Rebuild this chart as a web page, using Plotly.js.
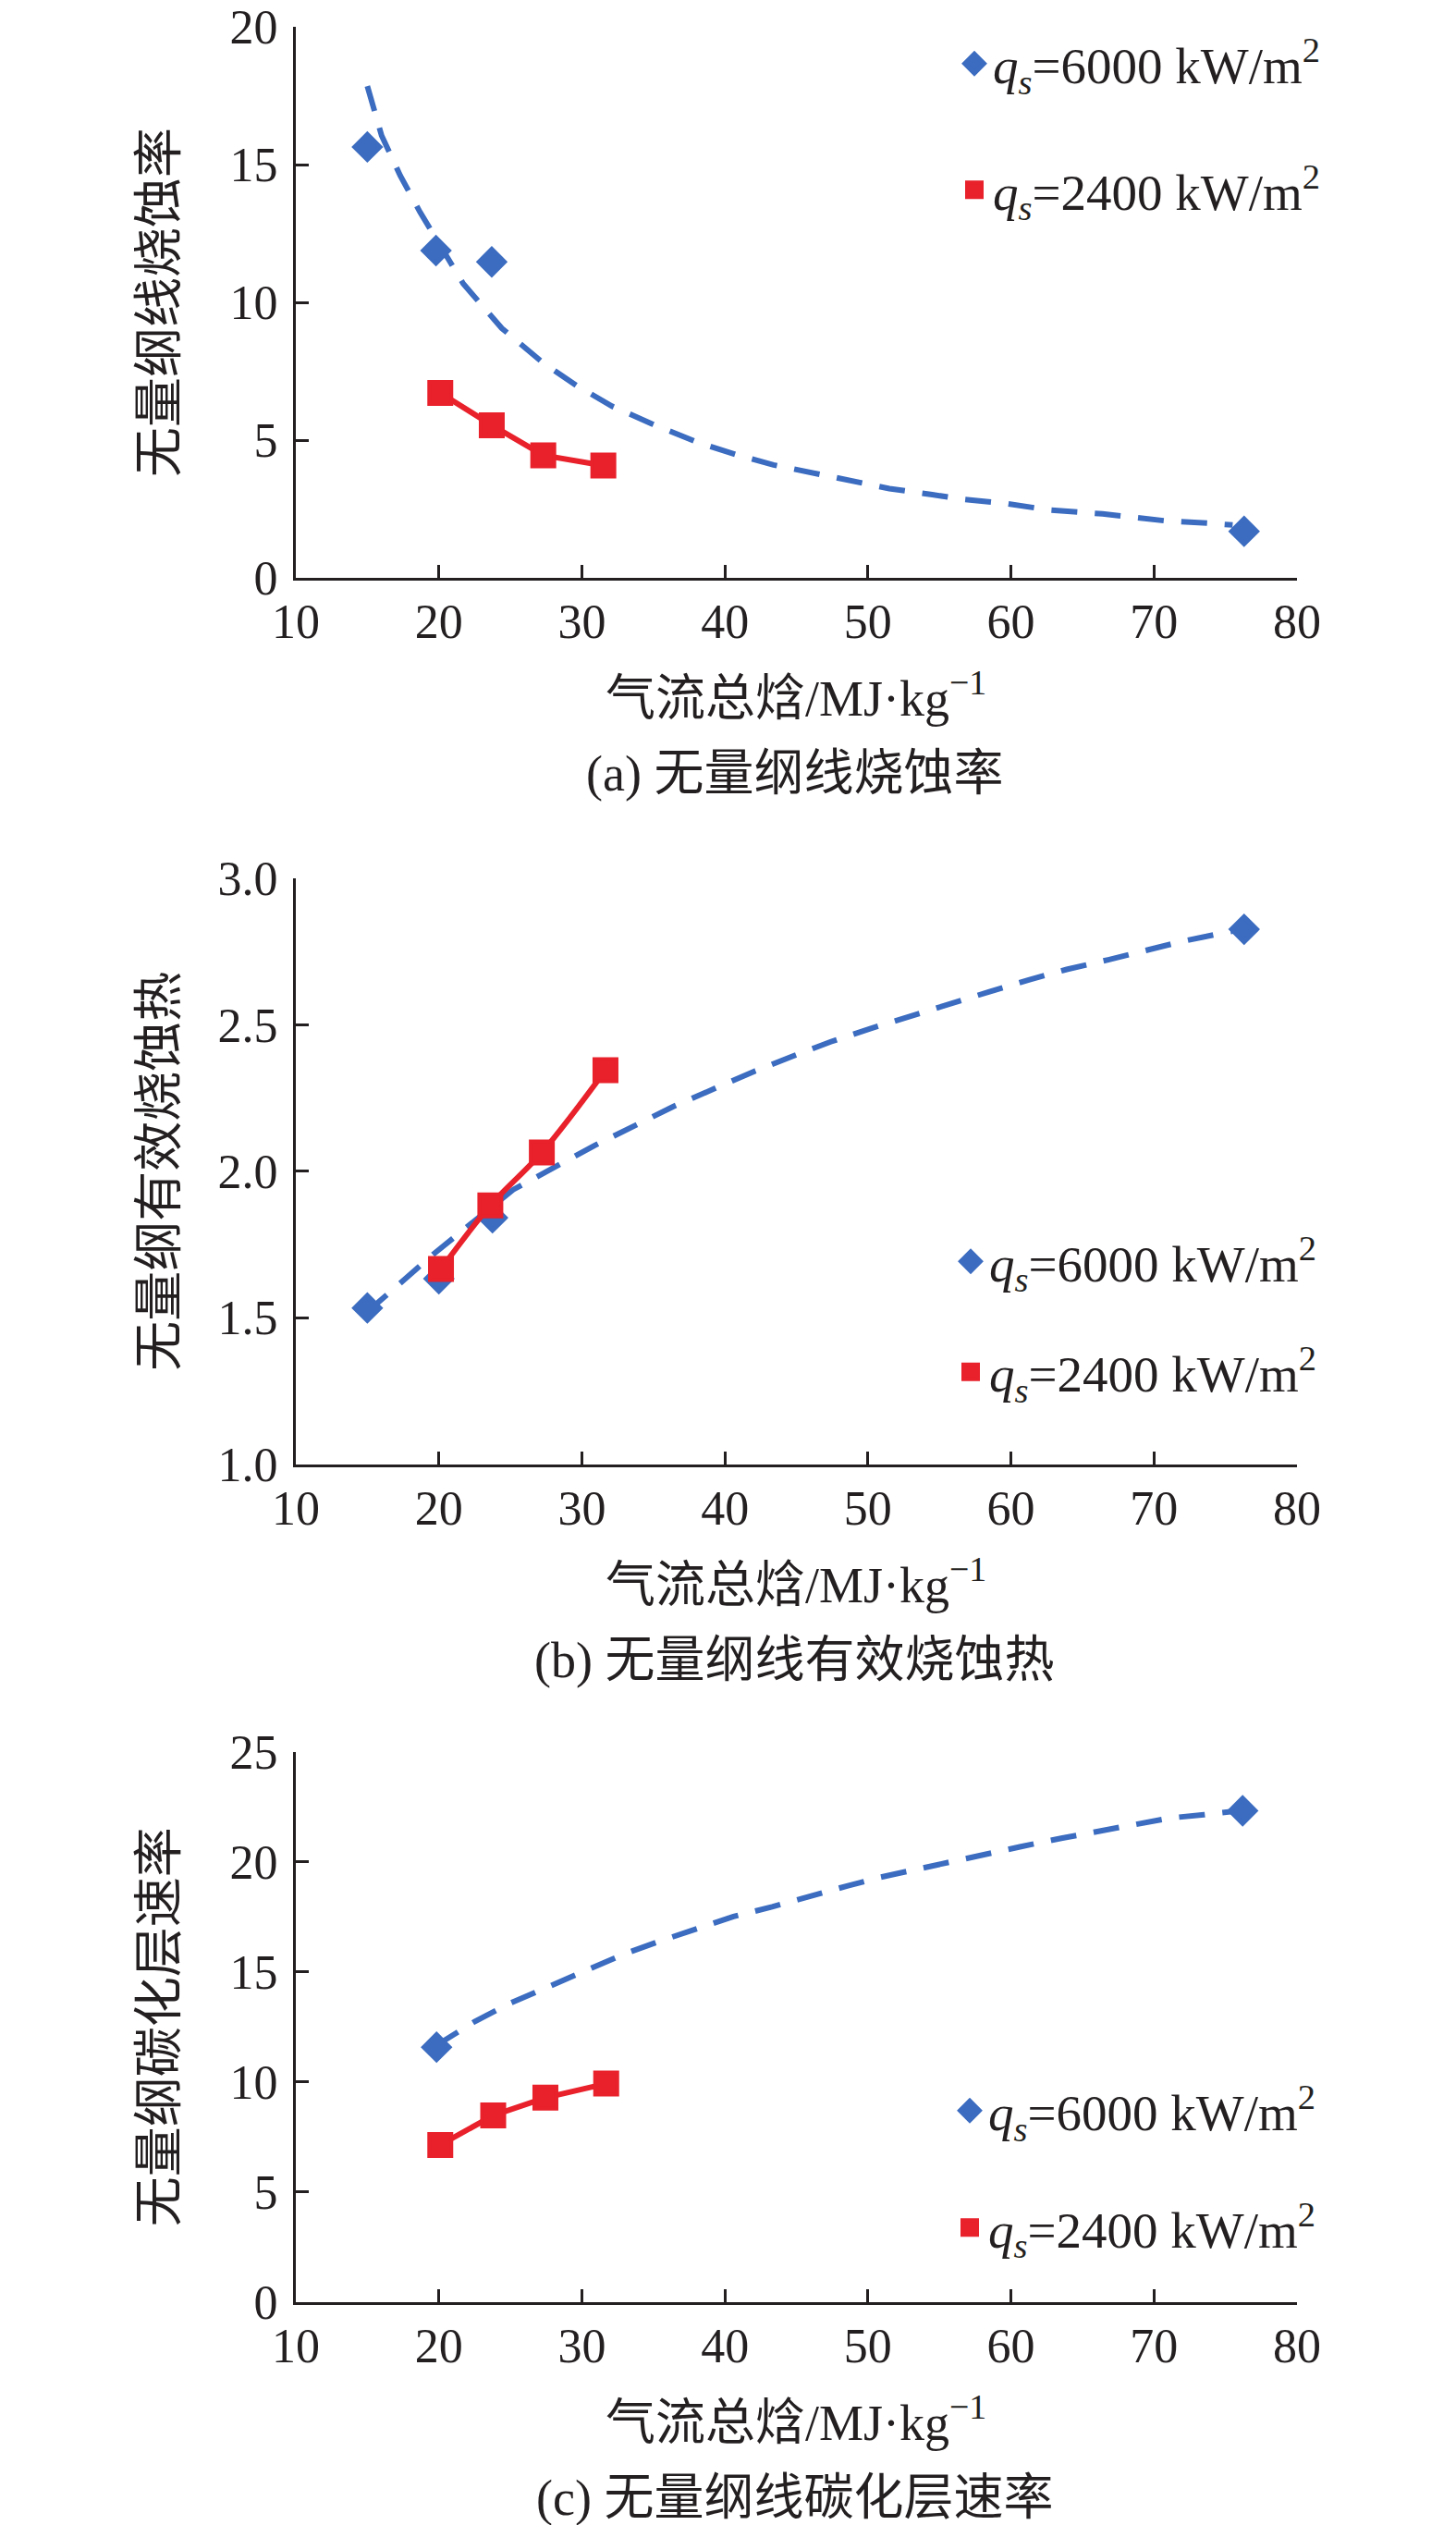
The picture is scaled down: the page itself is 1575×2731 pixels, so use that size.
<!DOCTYPE html>
<html>
<head>
<meta charset="utf-8">
<script src="https://cdn.plot.ly/plotly-3.0.1.min.js"></script>
<style>
html,body{margin:0;padding:0;background:#fff;}
#chart{width:1575px;height:2731px;}
</style>
</head>
<body>
<div id="chart"></div>
<script>
// ---------- data ----------
// (a) dimensionless linear ablation rate
const A_BLUE_X = [15.0, 19.8, 23.7, 76.3];
const A_BLUE_Y = [15.64, 11.88, 11.47, 1.69];
const A_RED_X = [20.1, 23.7, 27.3, 31.5];
const A_RED_Y = [6.71, 5.54, 4.45, 4.08];
const A_TREND_X = [15.0, 16.0, 17.3, 18.7, 21.7, 24.4, 27.3, 29.6, 32.1, 34.9, 38.1, 40.8, 43.4, 45.7, 48.7, 51.5, 54.5, 56.7, 59.6, 62.6, 66.4, 70.8, 73.9, 75.5];
const A_TREND_Y = [17.85, 16.05, 14.6, 13.26, 10.68, 9.06, 7.80, 6.99, 6.23, 5.59, 4.92, 4.47, 4.10, 3.86, 3.55, 3.24, 3.02, 2.85, 2.70, 2.47, 2.32, 2.07, 1.98, 1.92];

// (b) dimensionless effective heat of ablation
const B_BLUE_X = [15.0, 20.0, 23.75, 76.3];
const B_BLUE_Y = [1.533, 1.633, 1.841, 2.826];
const B_RED_X = [20.15, 23.6, 27.2, 31.65];
const B_RED_Y = [1.666, 1.883, 2.064, 2.345];
const B_TREND_X = [15.0, 17.3, 19.7, 25.2, 30.9, 36.4, 39.4, 42.1, 44.8, 47.4, 50.3, 53.1, 55.8, 58.5, 61.3, 63.9, 66.8, 69.1, 72.0, 75.5];
const B_TREND_Y = [1.52, 1.617, 1.72, 1.937, 2.088, 2.221, 2.287, 2.342, 2.394, 2.442, 2.489, 2.533, 2.575, 2.613, 2.654, 2.689, 2.722, 2.752, 2.785, 2.82];

// (c) dimensionless char layer rate
const C_BLUE_X = [19.84, 76.2];
const C_BLUE_Y = [11.58, 22.33];
const C_RED_X = [20.1, 23.8, 27.45, 31.7];
const C_RED_Y = [7.13, 8.47, 9.28, 9.92];
const C_TREND_X = [19.8, 22.5, 24.9, 27.5, 30.2, 32.9, 35.5, 38.3, 40.6, 43.3, 46.0, 48.6, 50.9, 53.8, 56.3, 59.0, 60.7, 63.6, 66.5, 69.3, 71.1, 73.5, 75.5];
const C_TREND_Y = [11.65, 12.74, 13.55, 14.27, 15.08, 15.80, 16.41, 17.02, 17.52, 17.96, 18.47, 18.92, 19.31, 19.73, 20.11, 20.46, 20.70, 21.09, 21.44, 21.79, 22.0, 22.15, 22.3];

const LEGEND_BLUE = '<i>q</i><sub><i>s</i></sub>=6000 kW/m<sup>2</sup>';
const LEGEND_RED = '<i>q</i><sub><i>s</i></sub>=2400 kW/m<sup>2</sup>';
const X_TITLE = '气流总焓/MJ·kg<sup>−1</sup>';
const Y_TITLES = ['无量纲线烧蚀率', '无量纲有效烧蚀热', '无量纲碳化层速率'];
const CAPTIONS = ['(a) 无量纲线烧蚀率', '(b) 无量纲线有效烧蚀热', '(c) 无量纲线碳化层速率'];
const X_TICKS = [10, 20, 30, 40, 50, 60, 70, 80];

// ---------- style ----------
const BLUE = '#3b6cc0';
const RED = '#e8212b';
const INK = '#231f20';
const FONT = 'Liberation Serif, "Times New Roman", "Noto Sans CJK SC", serif';
const W = 1575, H = 2731;

function px(x) { return x / W; }
function py(y) { return 1 - y / H; }

function panel(idx, bx, by, rx, ry, tx, ty, splineRed) {
  const s = idx === 1 ? '' : String(idx);
  const xa = 'x' + s, ya = 'y' + s, lg = 'legend' + s;
  return [
    {x: tx, y: ty, xaxis: xa, yaxis: ya, mode: 'lines', showlegend: false,
     line: {color: BLUE, width: 6, dash: '28px,19px'}, hoverinfo: 'skip'},
    {x: bx, y: by, xaxis: xa, yaxis: ya, mode: 'markers', name: LEGEND_BLUE,
     legend: lg, legendgroup: 'g1' + s,
     marker: {symbol: 'diamond', size: 21, color: BLUE, line: {width: 5, color: BLUE}}},
    {x: rx, y: ry, xaxis: xa, yaxis: ya, mode: 'lines', showlegend: false,
     line: {color: RED, width: 6, shape: splineRed ? 'spline' : 'linear'}, hoverinfo: 'skip'},
    {x: rx, y: ry, xaxis: xa, yaxis: ya, mode: 'markers', name: LEGEND_RED,
     legend: lg, legendgroup: 'g2' + s,
     marker: {symbol: 'square', size: 24, color: RED, line: {width: 4, color: RED}}}
  ];
}

const data = [].concat(
  panel(1, A_BLUE_X, A_BLUE_Y, A_RED_X, A_RED_Y, A_TREND_X, A_TREND_Y, false),
  panel(2, B_BLUE_X, B_BLUE_Y, B_RED_X, B_RED_Y, B_TREND_X, B_TREND_Y, true),
  panel(3, C_BLUE_X, C_BLUE_Y, C_RED_X, C_RED_Y, C_TREND_X, C_TREND_Y, false)
);

const axisBase = {
  showline: true, linecolor: INK, linewidth: 3, mirror: false,
  showgrid: false, zeroline: false,
  ticks: 'inside', ticklen: 14, tickwidth: 3, tickcolor: INK,
  tickfont: {family: FONT, size: 52, color: INK},
  fixedrange: true
};

const xDomain = [px(320), px(1403)];
function xaxis(anchor) {
  return Object.assign({}, axisBase, {domain: xDomain, range: [10, 80], tickvals: X_TICKS,
    ticktext: X_TICKS.map(String), anchor: anchor, ticklabelstandoff: 0});
}
function yaxis(anchor, top, bottom, range, dtick, fmt) {
  return Object.assign({}, axisBase, {domain: [py(bottom), py(top)], range: range,
    dtick: dtick, tick0: range[0], tickformat: fmt, anchor: anchor, ticklabelstandoff: 6});
}

const panels = [
  {top: 29, bottom: 625, legendMid: 137, gap: 62, legX: 1034},
  {top: 950, bottom: 1583.5, legendMid: 1424, gap: 45, legX: 1030},
  {top: 1895, bottom: 2489.5, legendMid: 2346, gap: 52, legX: 1029}
];

const annotations = [];
panels.forEach((p, i) => {
  const mid = (p.top + p.bottom) / 2;
  annotations.push({xref: 'paper', yref: 'paper', x: px(173), y: py(mid), text: Y_TITLES[i],
    textangle: -90, showarrow: false, xanchor: 'center', yanchor: 'middle',
    font: {family: FONT, size: 54, color: INK}});
  annotations.push({xref: 'paper', yref: 'paper', x: px(861), y: py(p.bottom + 127), text: X_TITLE,
    showarrow: false, xanchor: 'center', yanchor: 'middle',
    font: {family: FONT, size: 54, color: INK}});
  annotations.push({xref: 'paper', yref: 'paper', x: px(859), y: py(p.bottom + 212), text: CAPTIONS[i],
    showarrow: false, xanchor: 'center', yanchor: 'middle',
    font: {family: FONT, size: 54, color: INK}});
});

function legend(p) {
  return {x: px(p.legX), y: py(p.legendMid), xref: 'paper', yref: 'paper',
    xanchor: 'left', yanchor: 'middle', bgcolor: 'rgba(0,0,0,0)', borderwidth: 0,
    traceorder: 'grouped', tracegroupgap: p.gap, itemsizing: 'trace',
    font: {family: FONT, size: 55, color: INK}};
}

const layout = {
  width: W, height: H,
  margin: {l: 0, r: 0, t: 0, b: 0},
  paper_bgcolor: '#fff', plot_bgcolor: '#fff',
  showlegend: true,
  xaxis: xaxis('y'),
  yaxis: yaxis('x', 29, 625, [0, 20], 5, 'd'),
  xaxis2: xaxis('y2'),
  yaxis2: yaxis('x2', 950, 1583.5, [1, 3], 0.5, '.1f'),
  xaxis3: xaxis('y3'),
  yaxis3: yaxis('x3', 1895, 2489.5, [0, 25], 5, 'd'),
  legend: legend(panels[0]),
  legend2: legend(panels[1]),
  legend3: legend(panels[2]),
  annotations: annotations
};

Plotly.newPlot('chart', data, layout, {staticPlot: true, displayModeBar: false});
</script>
</body>
</html>
